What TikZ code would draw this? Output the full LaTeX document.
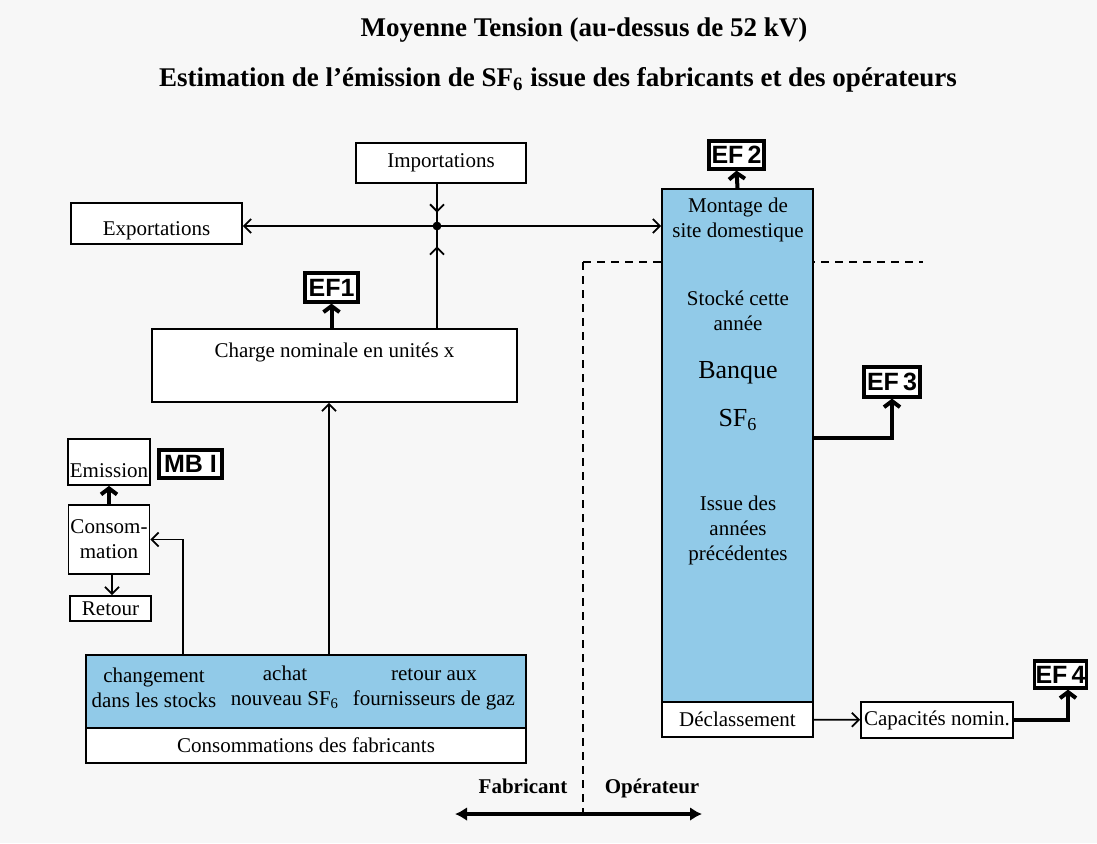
\documentclass[tikz,border=0pt]{standalone}
\usepackage{fontspec}
\setmainfont{Liberation Serif}
\setsansfont{Liberation Sans}
\usetikzlibrary{arrows.meta, positioning, decorations.markings}
\definecolor{bankblue}{RGB}{145,202,232}

\begin{document}
\begin{tikzpicture}[x=0.5pt, y=-0.5pt,
        every node/.style={font=\fontsize{10.5}{12.5}\selectfont, inner sep=1pt, align=center},
        box/.style={draw, line width=0.9pt, fill=white},
        bluebox/.style={box, fill=bankblue},
        efbox/.style={draw, line width=1.6pt, fill=white, font=\sffamily\bfseries\fontsize{12.5}{13}\selectfont, inner sep=0.5pt},
        side/.style={font=\bfseries\fontsize{10.5}{12.5}\selectfont, text height=8pt, text depth=2pt},
        flow/.style={line width=0.9pt, -{Straight Barb[length=3.5pt, width=7pt]}},
        emis/.style={line width=2pt, -{Straight Barb[length=3pt, width=8pt]}},
        flowmid/.style={line width=0.9pt, postaction={decorate}, decoration={markings, mark=at position #1 with {\arrow{Straight Barb[length=3.5pt, width=7pt]}}}}]
        \fill[black!3] (0,0) rectangle (1097,843);
        \useasboundingbox (0,0) rectangle (1097,843);

        % titres
        \node (title) [font=\bfseries\fontsize{13.5}{16}\selectfont] at (584,30) {Moyenne Tension (au-dessus de 52 kV)};
        \node (subtitle) [font=\bfseries\fontsize{13.5}{16}\selectfont] at (558,80) {Estimation de l’émission de SF\textsubscript{6} issue des fabricants et des opérateurs};

        % frontiere fabricant / operateur
        \coordinate (divtop) at (583,262);
        \coordinate (divbot) at (583,814);
        \draw[dashed, dash pattern=on 4pt off 3pt, line width=0.8pt] (divtop) -- (923,262);
        \draw[dashed, dash pattern=on 4pt off 3pt, line width=0.8pt] (divtop) -- (divbot);

        \node (imp) [box, minimum width=85pt, minimum height=20pt] at (441,163) {Importations};
        \node (exp) [box, minimum width=85.5pt, minimum height=20.5pt, text height=14pt, text depth=2pt] at (156.5,223.5) {Exportations};
        \coordinate (junc) at (437,226);
        \node (charge) [box, minimum width=182.5pt, minimum height=36.5pt, text height=7pt, text depth=15.5pt] at (334.5,365.5) {Charge nominale en unités x};
        \node (ef1) [efbox, minimum width=26.5pt, minimum height=14.5pt] at (331.5,287.5) {EF1};

        % banque SF6
        \node (bank) [bluebox, minimum width=75.5pt, minimum height=256.5pt] at (737.5,445.5) {};
        \node (mont) at (738,220) {Montage de\\site domestique};
        \node (stock) at (738,310.5) {Stocké cette\\année};
        \node (banque) [font=\fontsize{13}{15}\selectfont] at (738,373) {Banque};
        \node (sfsix) [font=\fontsize{13}{15}\selectfont] at (738,420) {SF\textsubscript{6}};
        \node (issue) at (738,530) {Issue des\\années\\précédentes};
        \node (declass) [box, minimum width=75.5pt, minimum height=17.5pt] at (737.5,719.5) {Déclassement};
        \node (capa) [box, minimum width=76pt, minimum height=18pt] at (937,720) {Capacités nomin.};
        \node (ef2) [efbox, minimum width=27.5pt, minimum height=14pt] at (736.5,155) {EF\,2};
        \node (ef3) [efbox, minimum width=28pt, minimum height=15pt] at (892,382) {EF\,3};
        \node (ef4) [efbox, minimum width=24.5pt, minimum height=13.5pt] at (1060.5,674.5) {EF\,4};

        % consommation du fabricant
        \node (emission) [box, minimum width=39pt, minimum height=23pt, text height=17pt, text depth=2pt] at (109,462) {Emission};
        \node (mb) [efbox, minimum width=31.5pt, minimum height=14pt] at (190.5,464) {MB I};
        \node (consom) [box, minimum width=39pt, minimum height=34.5pt] at (109,539.5) {Consom-\\mation};
        \node (retour) [box, minimum width=40.5pt, minimum height=12.5pt] at (110.5,608.5) {Retour};
        \node (conso) [bluebox, minimum width=220pt, minimum height=36.5pt] at (306,691.5) {};
        \node (stocks) at (154,687.5) {changement\\dans les stocks};
        \node (achat) at (285,687.5) {achat\\nouveau SF\textsubscript{6}};
        \node (fourn) at (434,689.5) {retour aux\\fournisseurs de gaz};
        \node (consofab) [box, minimum width=220pt, minimum height=17.5pt] at (306,745.5) {Consommations des fabricants};
        \coordinate (stk) at (183,655);
        \coordinate (feed) at (329,655);

        \node (fab) [side] at (523,787) {Fabricant};
        \node (op) [side] at (652,787) {Opérateur};
        \coordinate (fl) at (455,814);
        \coordinate (fr) at (702,814);

        \draw[flowmid=0.68] (imp.south -| junc) -- (junc);
        \draw[flowmid=0.8] (charge.north -| junc) -- (junc);
        \fill (junc) circle[radius=2.2pt];
        \draw[flow] (junc) -- (junc -| exp.east);
        \draw[flow] (junc) -- (junc -| bank.west);
        \draw[emis] (charge.north -| ef1) -- (ef1.south);
        \draw[emis] (bank.north) -- (ef2.south);
        \draw[emis] ([yshift=3.75pt]bank.east) -| (ef3.south);
        \draw[flow] (declass) -- (capa);
        \draw[emis] (capa.east) -| ([xshift=3.75pt]ef4.south);
        \draw[flow] (feed) -- (feed |- charge.south);
        \draw[flow] (stk) |- (consom.east);
        \draw[emis] (consom.north) -- (emission.south);
        \draw[flow] ([xshift=1.5pt]consom.south) -- ([xshift=0.75pt]retour.north);
        \draw[line width=2pt, {Latex[length=6pt, width=7pt]}-{Latex[length=6pt, width=7pt]}] (fl) -- (fr);
    \end{tikzpicture}
\end{document}
